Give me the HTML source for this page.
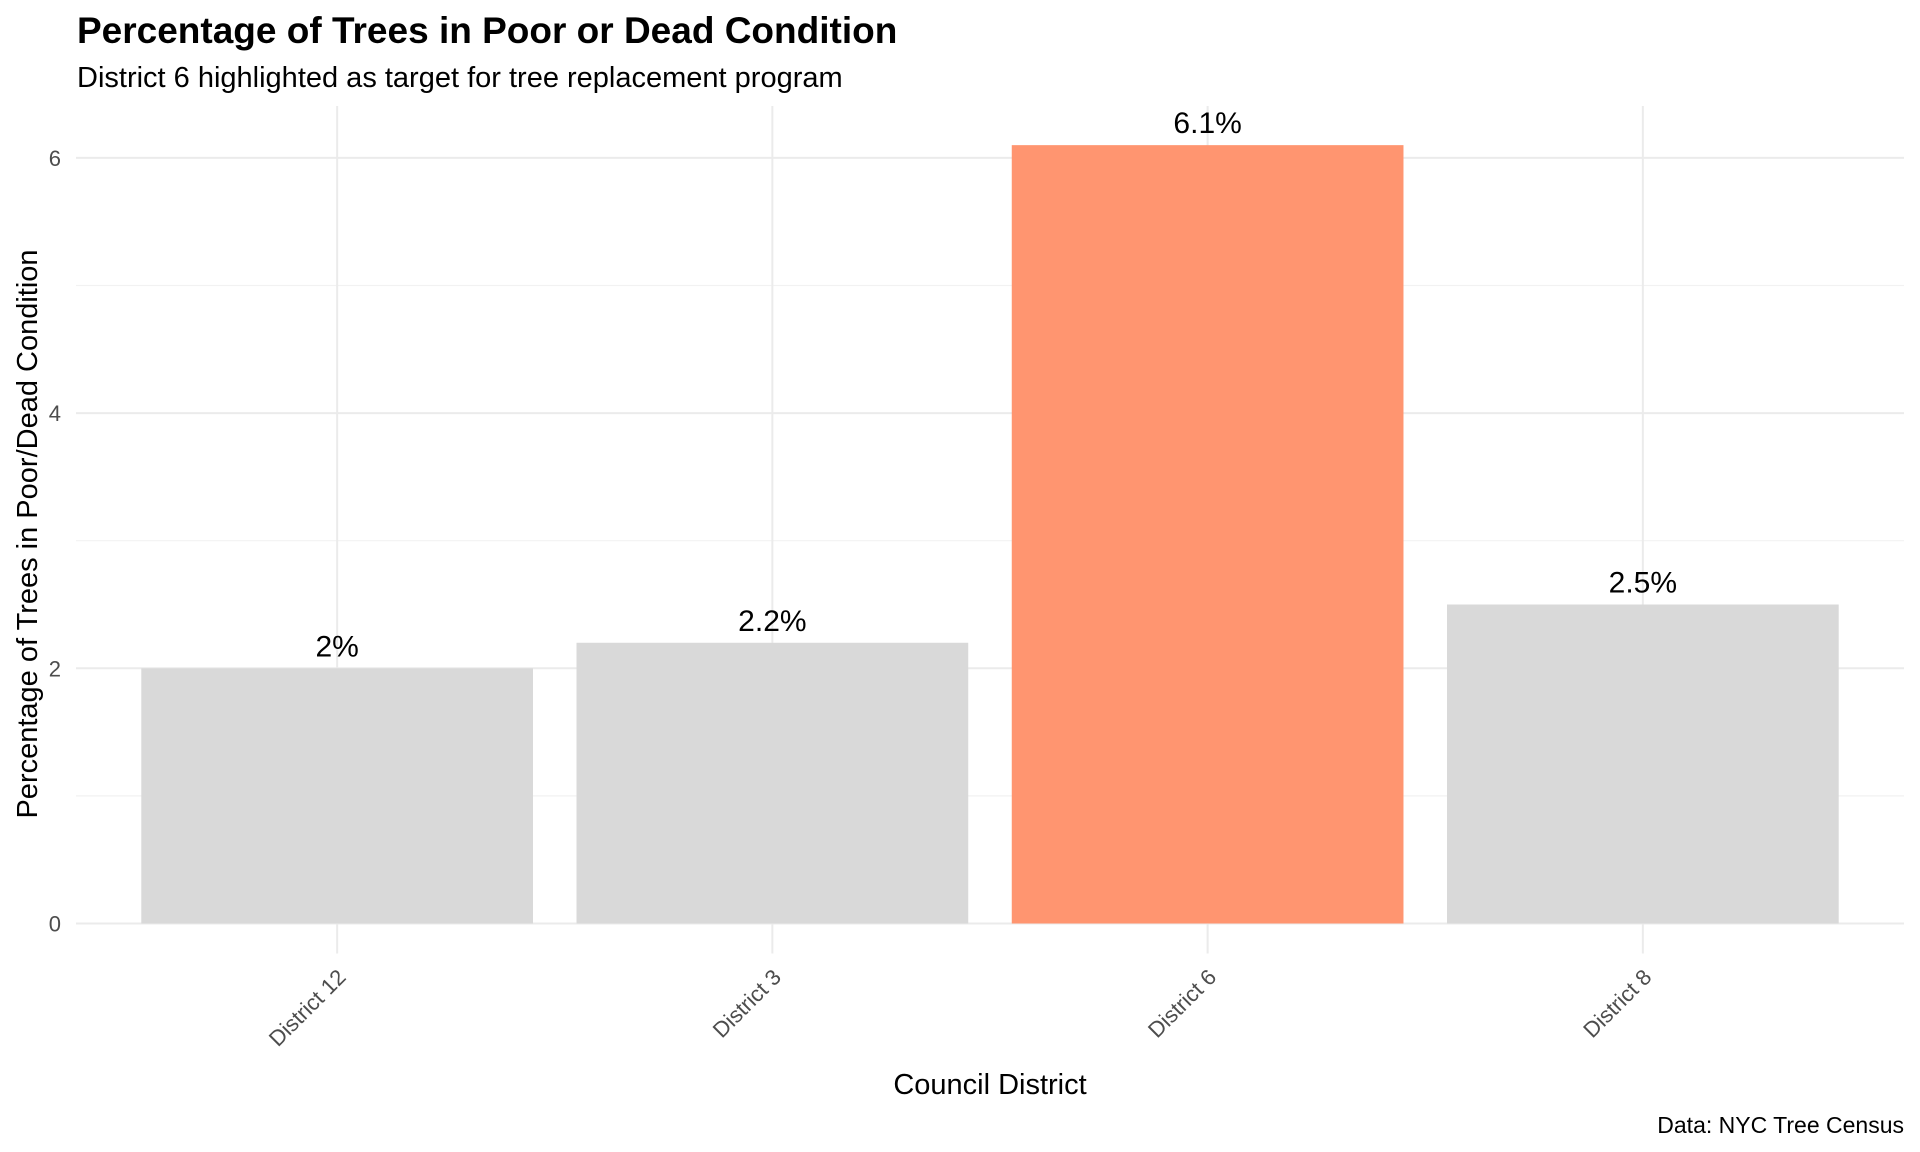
<!DOCTYPE html>
<html><head><meta charset="utf-8"><style>
html,body{margin:0;padding:0;background:#fff;}
svg{display:block;font-family:"Liberation Sans",Arial,sans-serif;}
</style></head><body>
<svg id="chart" width="1920" height="1152" viewBox="0 0 1920 1152">
<text x="77" y="43" font-size="37" font-weight="bold" fill="#000">Percentage of Trees in Poor or Dead Condition</text>
<text x="77" y="87" font-size="29" fill="#000">District 6 highlighted as target for tree replacement program</text>
<g id="grid"></g>
<g id="bars"></g>
<g id="labels"></g>
<text transform="translate(37,534) rotate(-90)" text-anchor="middle" font-size="29" fill="#000">Percentage of Trees in Poor/Dead Condition</text>
<text x="990" y="1094" text-anchor="middle" font-size="29" fill="#000">Council District</text>
<text x="1904" y="1133" text-anchor="end" font-size="23" fill="#000">Data: NYC Tree Census</text>
</svg>
<script>
const categories = ["District 12","District 3","District 6","District 8"];
const values = [2.0, 2.2, 6.1, 2.5];
const valueLabels = ["2%","2.2%","6.1%","2.5%"];
const highlight = [false,false,true,false];
const yTicks = [0,2,4,6];
const yMinor = [1,3,5];

const NS="http://www.w3.org/2000/svg";
const pLeft=76, pRight=1904, panelTop=106, y0=923.5, unit=127.6;
const band=(pRight-pLeft)/(categories.length-1+1.2);
function yScale(v){return y0-v*unit;}
function xScale(i){return pLeft+band*(i+0.6);}
function mk(tag,attrs,parent){const e=document.createElementNS(NS,tag);for(const k in attrs)e.setAttribute(k,attrs[k]);parent.appendChild(e);return e;}
const grid=document.getElementById('grid'),bars=document.getElementById('bars'),labels=document.getElementById('labels');
yMinor.forEach(v=>{const l=mk('line',{x1:pLeft,x2:pRight,y1:yScale(v),y2:yScale(v),stroke:'#f2f2f2','stroke-width':1.2},grid);

});
yTicks.forEach(v=>{const l=mk('line',{x1:pLeft,x2:pRight,y1:yScale(v),y2:yScale(v),stroke:'#ebebeb','stroke-width':2},grid);


const t=mk('text',{x:61,y:yScale(v)+8,'text-anchor':'end','font-size':22,fill:'#4d4d4d'},grid);t.textContent=v;

});
categories.forEach((c,i)=>{const x=xScale(i);
const l=mk('line',{x1:x,x2:x,y1:panelTop,y2:y0+30,stroke:'#ebebeb','stroke-width':2},grid);


const w=band*0.9;
const r=mk('rect',{x:x-w/2,y:yScale(values[i]),width:w,height:y0-yScale(values[i]),fill:highlight[i]?'#ff9570':'#d9d9d9'},bars);


const t=mk('text',{x:x,y:yScale(values[i])-12,'text-anchor':'middle','font-size':30,fill:'#000'},labels);t.textContent=valueLabels[i];


const tl=mk('text',{transform:`translate(${x+10},${y0+55}) rotate(-45)`,'text-anchor':'end','font-size':22,fill:'#4d4d4d'},labels);tl.textContent=c;

});
</script>
</body></html>
